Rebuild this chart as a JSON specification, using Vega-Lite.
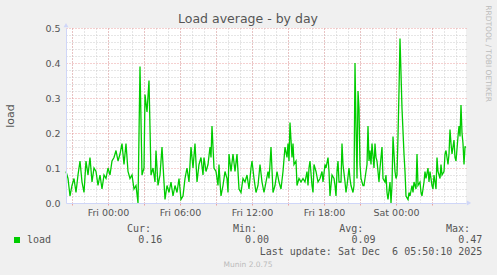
{
  "$schema": "https://vega.github.io/schema/vega-lite/v6.json",
  "autosize": "none",
  "width": 400,
  "height": 175,
  "padding": {"left": 66, "top": 28, "right": 31, "bottom": 72},
  "background": "#f0f0f0",
  "config": {
    "view": {"fill": "#ffffff", "stroke": null},
    "axis": {"labelFont": "DejaVu Sans", "labelFontSize": 9.5, "labelColor": "#555555", "titleFont": "DejaVu Sans", "titleColor": "#555555", "titleFontWeight": "normal"}
  },
  "datasets": {
    "loadavg": [
      {"t": "2025-12-04T20:30", "load": 0.09}, {"t": "2025-12-04T20:40", "load": 0.07}, {"t": "2025-12-04T20:50", "load": 0.02},
      {"t": "2025-12-04T21:00", "load": 0.05}, {"t": "2025-12-04T21:10", "load": 0.07}, {"t": "2025-12-04T21:20", "load": 0.03},
      {"t": "2025-12-04T21:30", "load": 0.08}, {"t": "2025-12-04T21:40", "load": 0.12}, {"t": "2025-12-04T21:50", "load": 0.06},
      {"t": "2025-12-04T22:00", "load": 0.03}, {"t": "2025-12-04T22:10", "load": 0.12}, {"t": "2025-12-04T22:20", "load": 0.08},
      {"t": "2025-12-04T22:30", "load": 0.13}, {"t": "2025-12-04T22:40", "load": 0.06}, {"t": "2025-12-04T22:50", "load": 0.10},
      {"t": "2025-12-04T23:00", "load": 0.09}, {"t": "2025-12-04T23:10", "load": 0.05}, {"t": "2025-12-04T23:20", "load": 0.08},
      {"t": "2025-12-04T23:30", "load": 0.04}, {"t": "2025-12-04T23:40", "load": 0.08}, {"t": "2025-12-04T23:50", "load": 0.07},
      {"t": "2025-12-05T00:00", "load": 0.10}, {"t": "2025-12-05T00:10", "load": 0.08}, {"t": "2025-12-05T00:20", "load": 0.12},
      {"t": "2025-12-05T00:30", "load": 0.13}, {"t": "2025-12-05T00:40", "load": 0.15}, {"t": "2025-12-05T00:50", "load": 0.12},
      {"t": "2025-12-05T01:00", "load": 0.14}, {"t": "2025-12-05T01:10", "load": 0.17}, {"t": "2025-12-05T01:20", "load": 0.11},
      {"t": "2025-12-05T01:30", "load": 0.17}, {"t": "2025-12-05T01:40", "load": 0.09}, {"t": "2025-12-05T01:50", "load": 0.07},
      {"t": "2025-12-05T02:00", "load": 0.08}, {"t": "2025-12-05T02:10", "load": 0.04}, {"t": "2025-12-05T02:20", "load": 0.05},
      {"t": "2025-12-05T02:30", "load": 0.00}, {"t": "2025-12-05T02:40", "load": 0.39}, {"t": "2025-12-05T02:50", "load": 0.08},
      {"t": "2025-12-05T03:00", "load": 0.10}, {"t": "2025-12-05T03:05", "load": 0.31}, {"t": "2025-12-05T03:15", "load": 0.26},
      {"t": "2025-12-05T03:25", "load": 0.35}, {"t": "2025-12-05T03:35", "load": 0.08}, {"t": "2025-12-05T03:45", "load": 0.10},
      {"t": "2025-12-05T03:55", "load": 0.06}, {"t": "2025-12-05T04:00", "load": 0.15}, {"t": "2025-12-05T04:10", "load": 0.05},
      {"t": "2025-12-05T04:20", "load": 0.08}, {"t": "2025-12-05T04:30", "load": 0.16}, {"t": "2025-12-05T04:40", "load": 0.06},
      {"t": "2025-12-05T04:45", "load": 0.01}, {"t": "2025-12-05T04:55", "load": 0.05}, {"t": "2025-12-05T05:05", "load": 0.03},
      {"t": "2025-12-05T05:15", "load": 0.06}, {"t": "2025-12-05T05:25", "load": 0.02}, {"t": "2025-12-05T05:35", "load": 0.05},
      {"t": "2025-12-05T05:45", "load": 0.03}, {"t": "2025-12-05T05:55", "load": 0.07}, {"t": "2025-12-05T06:05", "load": 0.01},
      {"t": "2025-12-05T06:15", "load": 0.02}, {"t": "2025-12-05T06:25", "load": 0.07}, {"t": "2025-12-05T06:35", "load": 0.10},
      {"t": "2025-12-05T06:45", "load": 0.06}, {"t": "2025-12-05T06:55", "load": 0.16}, {"t": "2025-12-05T07:05", "load": 0.10},
      {"t": "2025-12-05T07:15", "load": 0.17}, {"t": "2025-12-05T07:25", "load": 0.06}, {"t": "2025-12-05T07:35", "load": 0.11},
      {"t": "2025-12-05T07:45", "load": 0.13}, {"t": "2025-12-05T07:55", "load": 0.08}, {"t": "2025-12-05T08:00", "load": 0.13},
      {"t": "2025-12-05T08:10", "load": 0.09}, {"t": "2025-12-05T08:20", "load": 0.11}, {"t": "2025-12-05T08:30", "load": 0.16},
      {"t": "2025-12-05T08:35", "load": 0.13}, {"t": "2025-12-05T08:40", "load": 0.22}, {"t": "2025-12-05T08:50", "load": 0.10},
      {"t": "2025-12-05T09:00", "load": 0.09}, {"t": "2025-12-05T09:10", "load": 0.05}, {"t": "2025-12-05T09:15", "load": 0.11},
      {"t": "2025-12-05T09:20", "load": 0.06}, {"t": "2025-12-05T09:25", "load": 0.02}, {"t": "2025-12-05T09:35", "load": 0.05},
      {"t": "2025-12-05T09:45", "load": 0.09}, {"t": "2025-12-05T09:55", "load": 0.07}, {"t": "2025-12-05T10:00", "load": 0.03},
      {"t": "2025-12-05T10:05", "load": 0.14}, {"t": "2025-12-05T10:15", "load": 0.09}, {"t": "2025-12-05T10:25", "load": 0.14},
      {"t": "2025-12-05T10:35", "load": 0.09}, {"t": "2025-12-05T10:45", "load": 0.14}, {"t": "2025-12-05T10:55", "load": 0.04},
      {"t": "2025-12-05T11:05", "load": 0.03}, {"t": "2025-12-05T11:15", "load": 0.07}, {"t": "2025-12-05T11:25", "load": 0.06},
      {"t": "2025-12-05T11:35", "load": 0.08}, {"t": "2025-12-05T11:45", "load": 0.04}, {"t": "2025-12-05T11:55", "load": 0.10},
      {"t": "2025-12-05T12:00", "load": 0.12}, {"t": "2025-12-05T12:10", "load": 0.07}, {"t": "2025-12-05T12:20", "load": 0.03},
      {"t": "2025-12-05T12:30", "load": 0.05}, {"t": "2025-12-05T12:40", "load": 0.11}, {"t": "2025-12-05T12:50", "load": 0.06},
      {"t": "2025-12-05T13:00", "load": 0.03}, {"t": "2025-12-05T13:10", "load": 0.06}, {"t": "2025-12-05T13:20", "load": 0.09},
      {"t": "2025-12-05T13:25", "load": 0.07}, {"t": "2025-12-05T13:30", "load": 0.11}, {"t": "2025-12-05T13:35", "load": 0.16},
      {"t": "2025-12-05T13:45", "load": 0.03}, {"t": "2025-12-05T13:55", "load": 0.05}, {"t": "2025-12-05T14:05", "load": 0.09},
      {"t": "2025-12-05T14:15", "load": 0.06}, {"t": "2025-12-05T14:25", "load": 0.04}, {"t": "2025-12-05T14:35", "load": 0.09},
      {"t": "2025-12-05T14:45", "load": 0.16}, {"t": "2025-12-05T14:55", "load": 0.13}, {"t": "2025-12-05T15:00", "load": 0.17},
      {"t": "2025-12-05T15:05", "load": 0.12}, {"t": "2025-12-05T15:10", "load": 0.23}, {"t": "2025-12-05T15:20", "load": 0.13},
      {"t": "2025-12-05T15:25", "load": 0.17}, {"t": "2025-12-05T15:30", "load": 0.11}, {"t": "2025-12-05T15:40", "load": 0.12},
      {"t": "2025-12-05T15:45", "load": 0.05}, {"t": "2025-12-05T15:55", "load": 0.07}, {"t": "2025-12-05T16:05", "load": 0.06},
      {"t": "2025-12-05T16:15", "load": 0.07}, {"t": "2025-12-05T16:25", "load": 0.06}, {"t": "2025-12-05T16:35", "load": 0.09},
      {"t": "2025-12-05T16:40", "load": 0.05}, {"t": "2025-12-05T16:45", "load": 0.10}, {"t": "2025-12-05T16:50", "load": 0.12},
      {"t": "2025-12-05T17:00", "load": 0.05}, {"t": "2025-12-05T17:05", "load": 0.03}, {"t": "2025-12-05T17:10", "load": 0.11},
      {"t": "2025-12-05T17:20", "load": 0.09}, {"t": "2025-12-05T17:30", "load": 0.06}, {"t": "2025-12-05T17:40", "load": 0.07},
      {"t": "2025-12-05T17:50", "load": 0.09}, {"t": "2025-12-05T17:55", "load": 0.06}, {"t": "2025-12-05T18:05", "load": 0.11},
      {"t": "2025-12-05T18:10", "load": 0.10}, {"t": "2025-12-05T18:20", "load": 0.13}, {"t": "2025-12-05T18:25", "load": 0.09},
      {"t": "2025-12-05T18:30", "load": 0.02}, {"t": "2025-12-05T18:40", "load": 0.08}, {"t": "2025-12-05T18:50", "load": 0.07},
      {"t": "2025-12-05T18:55", "load": 0.05}, {"t": "2025-12-05T19:00", "load": 0.02}, {"t": "2025-12-05T19:05", "load": 0.09},
      {"t": "2025-12-05T19:10", "load": 0.12}, {"t": "2025-12-05T19:15", "load": 0.06}, {"t": "2025-12-05T19:25", "load": 0.06},
      {"t": "2025-12-05T19:30", "load": 0.17}, {"t": "2025-12-05T19:35", "load": 0.11}, {"t": "2025-12-05T19:45", "load": 0.06},
      {"t": "2025-12-05T19:50", "load": 0.03}, {"t": "2025-12-05T19:55", "load": 0.05}, {"t": "2025-12-05T20:05", "load": 0.10},
      {"t": "2025-12-05T20:10", "load": 0.07}, {"t": "2025-12-05T20:15", "load": 0.05}, {"t": "2025-12-05T20:25", "load": 0.03},
      {"t": "2025-12-05T20:30", "load": 0.05}, {"t": "2025-12-05T20:35", "load": 0.40}, {"t": "2025-12-05T20:40", "load": 0.22},
      {"t": "2025-12-05T20:45", "load": 0.07}, {"t": "2025-12-05T20:50", "load": 0.32}, {"t": "2025-12-05T20:55", "load": 0.27},
      {"t": "2025-12-05T21:00", "load": 0.11}, {"t": "2025-12-05T21:05", "load": 0.07}, {"t": "2025-12-05T21:15", "load": 0.05},
      {"t": "2025-12-05T21:20", "load": 0.05}, {"t": "2025-12-05T21:25", "load": 0.07}, {"t": "2025-12-05T21:35", "load": 0.11},
      {"t": "2025-12-05T21:40", "load": 0.22}, {"t": "2025-12-05T21:45", "load": 0.12}, {"t": "2025-12-05T21:50", "load": 0.15},
      {"t": "2025-12-05T21:55", "load": 0.11}, {"t": "2025-12-05T22:00", "load": 0.17}, {"t": "2025-12-05T22:10", "load": 0.10},
      {"t": "2025-12-05T22:15", "load": 0.17}, {"t": "2025-12-05T22:20", "load": 0.13}, {"t": "2025-12-05T22:25", "load": 0.12},
      {"t": "2025-12-05T22:35", "load": 0.06}, {"t": "2025-12-05T22:40", "load": 0.10}, {"t": "2025-12-05T22:50", "load": 0.16},
      {"t": "2025-12-05T22:55", "load": 0.07}, {"t": "2025-12-05T23:05", "load": 0.06}, {"t": "2025-12-05T23:10", "load": 0.08},
      {"t": "2025-12-05T23:15", "load": 0.03}, {"t": "2025-12-05T23:20", "load": 0.01}, {"t": "2025-12-05T23:30", "load": 0.06},
      {"t": "2025-12-05T23:35", "load": 0.00}, {"t": "2025-12-05T23:40", "load": 0.05}, {"t": "2025-12-05T23:45", "load": 0.19},
      {"t": "2025-12-05T23:55", "load": 0.09}, {"t": "2025-12-06T00:00", "load": 0.07}, {"t": "2025-12-06T00:05", "load": 0.08},
      {"t": "2025-12-06T00:10", "load": 0.19}, {"t": "2025-12-06T00:15", "load": 0.32}, {"t": "2025-12-06T00:20", "load": 0.47},
      {"t": "2025-12-06T00:30", "load": 0.27}, {"t": "2025-12-06T00:40", "load": 0.14}, {"t": "2025-12-06T00:45", "load": 0.09},
      {"t": "2025-12-06T00:50", "load": 0.02}, {"t": "2025-12-06T01:00", "load": 0.01}, {"t": "2025-12-06T01:05", "load": 0.03},
      {"t": "2025-12-06T01:10", "load": 0.02}, {"t": "2025-12-06T01:20", "load": 0.05}, {"t": "2025-12-06T01:25", "load": 0.03},
      {"t": "2025-12-06T01:30", "load": 0.06}, {"t": "2025-12-06T01:40", "load": 0.04}, {"t": "2025-12-06T01:45", "load": 0.14},
      {"t": "2025-12-06T01:50", "load": 0.05}, {"t": "2025-12-06T02:00", "load": 0.06}, {"t": "2025-12-06T02:05", "load": 0.03},
      {"t": "2025-12-06T02:10", "load": 0.02}, {"t": "2025-12-06T02:20", "load": 0.06}, {"t": "2025-12-06T02:25", "load": 0.09},
      {"t": "2025-12-06T02:30", "load": 0.07}, {"t": "2025-12-06T02:40", "load": 0.10}, {"t": "2025-12-06T02:45", "load": 0.06},
      {"t": "2025-12-06T02:50", "load": 0.09}, {"t": "2025-12-06T03:00", "load": 0.05}, {"t": "2025-12-06T03:05", "load": 0.04},
      {"t": "2025-12-06T03:10", "load": 0.08}, {"t": "2025-12-06T03:20", "load": 0.04}, {"t": "2025-12-06T03:25", "load": 0.13},
      {"t": "2025-12-06T03:30", "load": 0.09}, {"t": "2025-12-06T03:40", "load": 0.07}, {"t": "2025-12-06T03:45", "load": 0.11},
      {"t": "2025-12-06T03:50", "load": 0.08}, {"t": "2025-12-06T04:00", "load": 0.09}, {"t": "2025-12-06T04:05", "load": 0.14},
      {"t": "2025-12-06T04:10", "load": 0.15}, {"t": "2025-12-06T04:20", "load": 0.11}, {"t": "2025-12-06T04:25", "load": 0.14},
      {"t": "2025-12-06T04:30", "load": 0.21}, {"t": "2025-12-06T04:35", "load": 0.17}, {"t": "2025-12-06T04:40", "load": 0.14},
      {"t": "2025-12-06T04:50", "load": 0.18}, {"t": "2025-12-06T04:55", "load": 0.13}, {"t": "2025-12-06T05:00", "load": 0.12},
      {"t": "2025-12-06T05:10", "load": 0.19}, {"t": "2025-12-06T05:15", "load": 0.22}, {"t": "2025-12-06T05:20", "load": 0.19},
      {"t": "2025-12-06T05:25", "load": 0.28}, {"t": "2025-12-06T05:30", "load": 0.20}, {"t": "2025-12-06T05:35", "load": 0.17},
      {"t": "2025-12-06T05:40", "load": 0.11}, {"t": "2025-12-06T05:45", "load": 0.16}, {"t": "2025-12-06T05:50", "load": 0.16}
    ]
  },
  "resolve": {"scale": {"x": "shared", "y": "shared"}, "axis": {"x": "independent", "y": "independent"}},
  "layer": [
    {
      "data": {"name": "loadavg"},
      "mark": {"type": "line", "opacity": 0},
      "encoding": {
        "x": {"field": "t", "type": "temporal",
          "scale": {"domain": [{"year": 2025, "month": 12, "date": 4, "hours": 20, "minutes": 30}, {"year": 2025, "month": 12, "date": 6, "hours": 5, "minutes": 50}]},
          "axis": {"orient": "bottom", "title": null, "labels": false, "ticks": false, "domain": false, "grid": true, "gridColor": "#cccccc", "gridDash": [1, 2], "gridWidth": 1, "zindex": 0,
            "values": [
              {"year": 2025, "month": 12, "date": 4, "hours": 21}, {"year": 2025, "month": 12, "date": 4, "hours": 22}, {"year": 2025, "month": 12, "date": 4, "hours": 23},
              {"year": 2025, "month": 12, "date": 5, "hours": 0}, {"year": 2025, "month": 12, "date": 5, "hours": 1}, {"year": 2025, "month": 12, "date": 5, "hours": 2},
              {"year": 2025, "month": 12, "date": 5, "hours": 3}, {"year": 2025, "month": 12, "date": 5, "hours": 4}, {"year": 2025, "month": 12, "date": 5, "hours": 5},
              {"year": 2025, "month": 12, "date": 5, "hours": 6}, {"year": 2025, "month": 12, "date": 5, "hours": 7}, {"year": 2025, "month": 12, "date": 5, "hours": 8},
              {"year": 2025, "month": 12, "date": 5, "hours": 9}, {"year": 2025, "month": 12, "date": 5, "hours": 10}, {"year": 2025, "month": 12, "date": 5, "hours": 11},
              {"year": 2025, "month": 12, "date": 5, "hours": 12}, {"year": 2025, "month": 12, "date": 5, "hours": 13}, {"year": 2025, "month": 12, "date": 5, "hours": 14},
              {"year": 2025, "month": 12, "date": 5, "hours": 15}, {"year": 2025, "month": 12, "date": 5, "hours": 16}, {"year": 2025, "month": 12, "date": 5, "hours": 17},
              {"year": 2025, "month": 12, "date": 5, "hours": 18}, {"year": 2025, "month": 12, "date": 5, "hours": 19}, {"year": 2025, "month": 12, "date": 5, "hours": 20},
              {"year": 2025, "month": 12, "date": 5, "hours": 21}, {"year": 2025, "month": 12, "date": 5, "hours": 22}, {"year": 2025, "month": 12, "date": 5, "hours": 23},
              {"year": 2025, "month": 12, "date": 6, "hours": 0}, {"year": 2025, "month": 12, "date": 6, "hours": 1}, {"year": 2025, "month": 12, "date": 6, "hours": 2},
              {"year": 2025, "month": 12, "date": 6, "hours": 3}, {"year": 2025, "month": 12, "date": 6, "hours": 4}, {"year": 2025, "month": 12, "date": 6, "hours": 5}
            ]}},
        "y": {"field": "load", "type": "quantitative",
          "scale": {"domain": [0, 0.5], "nice": false, "zero": true},
          "axis": {"orient": "left", "title": null, "labels": false, "ticks": false, "domain": false, "grid": true, "gridColor": "#cccccc", "gridDash": [1, 2], "gridWidth": 1, "values": [0.02, 0.04, 0.06, 0.08, 0.12, 0.14, 0.16, 0.18, 0.22, 0.24, 0.26, 0.28, 0.32, 0.34, 0.36, 0.38, 0.42, 0.44, 0.46, 0.48], "zindex": 0}}
      }
    },
    {
      "data": {"name": "loadavg"},
      "mark": {"type": "line", "opacity": 0},
      "encoding": {
        "x": {"field": "t", "type": "temporal",
          "axis": {"orient": "bottom", "title": null, "labels": false, "ticks": true, "tickColor": "#eaa0a0", "tickSize": 2, "domain": false, "grid": true, "gridColor": "#eaa0a0", "gridDash": [1, 2], "gridWidth": 1, "zindex": 0,
            "values": [
              {"year": 2025, "month": 12, "date": 4, "hours": 21}, {"year": 2025, "month": 12, "date": 5, "hours": 0}, {"year": 2025, "month": 12, "date": 5, "hours": 3},
              {"year": 2025, "month": 12, "date": 5, "hours": 6}, {"year": 2025, "month": 12, "date": 5, "hours": 9}, {"year": 2025, "month": 12, "date": 5, "hours": 12},
              {"year": 2025, "month": 12, "date": 5, "hours": 15}, {"year": 2025, "month": 12, "date": 5, "hours": 18}, {"year": 2025, "month": 12, "date": 5, "hours": 21},
              {"year": 2025, "month": 12, "date": 6, "hours": 0}, {"year": 2025, "month": 12, "date": 6, "hours": 3}
            ]}},
        "y": {"field": "load", "type": "quantitative",
          "axis": {"orient": "left", "title": null, "labels": false, "ticks": false, "domain": false, "grid": true, "gridColor": "#eaa0a0", "gridDash": [1, 2], "gridWidth": 1, "values": [0.1, 0.2, 0.3, 0.4, 0.5], "zindex": 0}}
      }
    },
    {
      "data": {"name": "loadavg"},
      "mark": {"type": "line", "color": "#00cc00", "strokeWidth": 1.3},
      "encoding": {
        "x": {"field": "t", "type": "temporal",
          "axis": {"orient": "bottom", "title": null, "format": "%a %H:%M", "ticks": false, "tickSize": 0, "labelPadding": 4, "labelFlush": false, "labelOverlap": false, "grid": false, "domain": true, "domainColor": "#cfd6f8", "domainWidth": 1, "zindex": 1,
            "values": [
              {"year": 2025, "month": 12, "date": 5, "hours": 0}, {"year": 2025, "month": 12, "date": 5, "hours": 6}, {"year": 2025, "month": 12, "date": 5, "hours": 12},
              {"year": 2025, "month": 12, "date": 5, "hours": 18}, {"year": 2025, "month": 12, "date": 6, "hours": 0}
            ]}},
        "y": {"field": "load", "type": "quantitative",
          "axis": {"orient": "left", "title": "load", "titleFontSize": 11, "titleAngle": 270, "titleX": -56, "titleY": 87.5, "titleAlign": "center", "titleBaseline": "middle", "values": [0, 0.1, 0.2, 0.3, 0.4, 0.5], "format": ".1f", "ticks": false, "tickSize": 0, "labelPadding": 6, "grid": false, "domain": true, "domainColor": "#cfd6f8", "domainWidth": 1, "zindex": 1}}
      }
    },
    {
      "data": {"values": [{}]},
      "mark": {"type": "text", "text": "Load average - by day", "font": "DejaVu Sans", "fontSize": 12.5, "color": "#555555", "align": "center", "baseline": "alphabetic"},
      "encoding": {
        "x": {"datum": {"year": 2025, "month": 12, "date": 5, "hours": 11, "minutes": 40}, "type": "temporal", "axis": null},
        "y": {"datum": 0.5143, "type": "quantitative", "axis": null}
      }
    },
    {
      "data": {"values": [{}]},
      "mark": {"type": "point", "shape": "triangle-up", "size": 24, "filled": true, "color": "#cfd6f8", "opacity": 1},
      "encoding": {
        "x": {"datum": {"year": 2025, "month": 12, "date": 4, "hours": 20, "minutes": 30}, "type": "temporal", "axis": null},
        "y": {"datum": 0.508, "type": "quantitative", "axis": null}
      }
    },
    {
      "data": {"values": [{}]},
      "mark": {"type": "point", "shape": "triangle-right", "size": 24, "filled": true, "color": "#cfd6f8", "opacity": 1},
      "encoding": {
        "x": {"datum": {"year": 2025, "month": 12, "date": 6, "hours": 6, "minutes": 5}, "type": "temporal", "axis": null},
        "y": {"datum": 0, "type": "quantitative", "axis": null}
      }
    },
    {
      "data": {"values": [{}]},
      "mark": {"type": "text", "text": "RRDTOOL / TOBI OETIKER", "font": "DejaVu Sans", "fontSize": 7.5, "color": "#bbbbbb", "angle": 90, "align": "center", "baseline": "middle"},
      "encoding": {
        "x": {"datum": {"year": 2025, "month": 12, "date": 6, "hours": 7, "minutes": 40}, "type": "temporal", "axis": null},
        "y": {"datum": 0.427, "type": "quantitative", "axis": null}
      }
    },
    {
      "data": {"values": [{}]},
      "mark": {"type": "point", "shape": "square", "size": 36, "filled": true, "color": "#00cc00", "opacity": 1},
      "encoding": {
        "x": {"datum": {"year": 2025, "month": 12, "date": 4, "hours": 16, "minutes": 25}, "type": "temporal", "axis": null},
        "y": {"datum": -0.1057, "type": "quantitative", "axis": null}
      }
    },
    {
      "data": {"values": [{}]},
      "mark": {"type": "text", "text": "load", "font": "DejaVu Sans Mono", "fontSize": 10, "color": "#555555", "align": "left", "baseline": "alphabetic"},
      "encoding": {
        "x": {"datum": {"year": 2025, "month": 12, "date": 4, "hours": 17, "minutes": 15}, "type": "temporal", "axis": null},
        "y": {"datum": -0.1143, "type": "quantitative", "axis": null}
      }
    },
    {
      "data": {"values": [{}]},
      "mark": {"type": "text", "text": "Cur:", "font": "DejaVu Sans Mono", "fontSize": 10, "color": "#555555", "align": "right", "baseline": "alphabetic"},
      "encoding": {
        "x": {"datum": {"year": 2025, "month": 12, "date": 5, "hours": 3, "minutes": 35}, "type": "temporal", "axis": null},
        "y": {"datum": -0.0829, "type": "quantitative", "axis": null}
      }
    },
    {
      "data": {"values": [{}]},
      "mark": {"type": "text", "text": "Min:", "font": "DejaVu Sans Mono", "fontSize": 10, "color": "#555555", "align": "right", "baseline": "alphabetic"},
      "encoding": {
        "x": {"datum": {"year": 2025, "month": 12, "date": 5, "hours": 12, "minutes": 25}, "type": "temporal", "axis": null},
        "y": {"datum": -0.0829, "type": "quantitative", "axis": null}
      }
    },
    {
      "data": {"values": [{}]},
      "mark": {"type": "text", "text": "Avg:", "font": "DejaVu Sans Mono", "fontSize": 10, "color": "#555555", "align": "right", "baseline": "alphabetic"},
      "encoding": {
        "x": {"datum": {"year": 2025, "month": 12, "date": 5, "hours": 21, "minutes": 17}, "type": "temporal", "axis": null},
        "y": {"datum": -0.0829, "type": "quantitative", "axis": null}
      }
    },
    {
      "data": {"values": [{}]},
      "mark": {"type": "text", "text": "Max:", "font": "DejaVu Sans Mono", "fontSize": 10, "color": "#555555", "align": "right", "baseline": "alphabetic"},
      "encoding": {
        "x": {"datum": {"year": 2025, "month": 12, "date": 6, "hours": 6, "minutes": 10}, "type": "temporal", "axis": null},
        "y": {"datum": -0.0829, "type": "quantitative", "axis": null}
      }
    },
    {
      "data": {"values": [{}]},
      "mark": {"type": "text", "text": "0.16", "font": "DejaVu Sans Mono", "fontSize": 10, "color": "#555555", "align": "right", "baseline": "alphabetic"},
      "encoding": {
        "x": {"datum": {"year": 2025, "month": 12, "date": 5, "hours": 4, "minutes": 32}, "type": "temporal", "axis": null},
        "y": {"datum": -0.1143, "type": "quantitative", "axis": null}
      }
    },
    {
      "data": {"values": [{}]},
      "mark": {"type": "text", "text": "0.00", "font": "DejaVu Sans Mono", "fontSize": 10, "color": "#555555", "align": "right", "baseline": "alphabetic"},
      "encoding": {
        "x": {"datum": {"year": 2025, "month": 12, "date": 5, "hours": 13, "minutes": 25}, "type": "temporal", "axis": null},
        "y": {"datum": -0.1143, "type": "quantitative", "axis": null}
      }
    },
    {
      "data": {"values": [{}]},
      "mark": {"type": "text", "text": "0.09", "font": "DejaVu Sans Mono", "fontSize": 10, "color": "#555555", "align": "right", "baseline": "alphabetic"},
      "encoding": {
        "x": {"datum": {"year": 2025, "month": 12, "date": 5, "hours": 22, "minutes": 18}, "type": "temporal", "axis": null},
        "y": {"datum": -0.1143, "type": "quantitative", "axis": null}
      }
    },
    {
      "data": {"values": [{}]},
      "mark": {"type": "text", "text": "0.47", "font": "DejaVu Sans Mono", "fontSize": 10, "color": "#555555", "align": "right", "baseline": "alphabetic"},
      "encoding": {
        "x": {"datum": {"year": 2025, "month": 12, "date": 6, "hours": 7, "minutes": 12}, "type": "temporal", "axis": null},
        "y": {"datum": -0.1143, "type": "quantitative", "axis": null}
      }
    },
    {
      "data": {"values": [{}]},
      "mark": {"type": "text", "text": "Last update: Sat Dec\u00a0\u00a06 05:50:10 2025", "font": "DejaVu Sans Mono", "fontSize": 10, "color": "#555555", "align": "right", "baseline": "alphabetic"},
      "encoding": {
        "x": {"datum": {"year": 2025, "month": 12, "date": 6, "hours": 7, "minutes": 12}, "type": "temporal", "axis": null},
        "y": {"datum": -0.1486, "type": "quantitative", "axis": null}
      }
    },
    {
      "data": {"values": [{}]},
      "mark": {"type": "text", "text": "Munin 2.0.75", "font": "DejaVu Sans", "fontSize": 7.5, "color": "#bbbbbb", "align": "center", "baseline": "alphabetic"},
      "encoding": {
        "x": {"datum": {"year": 2025, "month": 12, "date": 5, "hours": 11, "minutes": 40}, "type": "temporal", "axis": null},
        "y": {"datum": -0.1829, "type": "quantitative", "axis": null}
      }
    }
  ]
}
